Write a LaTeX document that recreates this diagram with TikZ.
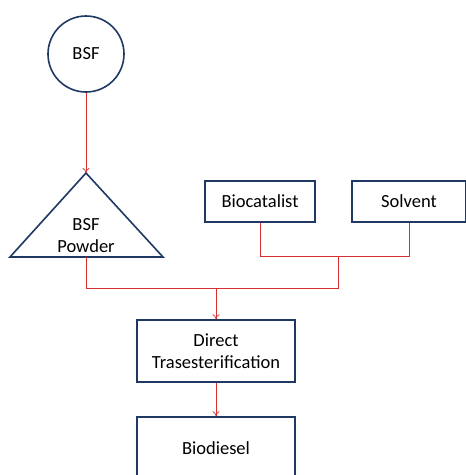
\documentclass[tikz,border=0pt]{standalone}
\usepackage{fontspec}
\setmainfont{Carlito}
\usetikzlibrary{arrows.meta}
\definecolor{boxblue}{RGB}{32,56,100}
\definecolor{flowred}{RGB}{214,48,48}
\begin{document}
\begin{tikzpicture}[x=1pt,y=-1pt,
    every node/.style={font=\fontsize{18.5}{22}\selectfont, align=center},
    stepbox/.style={draw=boxblue, line width=1.6pt, inner sep=0pt},
    flow/.style={draw=flowred, line width=0.7pt},
    flowarrow/.style={flow, -{To[length=5pt,width=7pt]}}]
    \clip (0,0) rectangle (466,475);
    \fill[white] (0,0) rectangle (466,475);

    % sources
    \node[stepbox, circle, minimum size=76pt] (bsf) at (86,54) {BSF};
    \draw[boxblue, line width=1.6pt, line join=miter] (10,257) -- (86,173) -- (163,257) -- cycle;
    \coordinate (apex) at (86,173);
    \coordinate (powbase) at (86,257);
    \node (powder) at (86,236) {BSF\\Powder};
    \node[stepbox, minimum width=110pt, minimum height=41pt] (bio) at (260,201.5) {Biocatalist};
    \node[stepbox, minimum width=114pt, minimum height=41pt] (solv) at (409,201.5) {Solvent};

    % process
    \node[stepbox, minimum width=158pt, minimum height=62pt] (direct) at (216,351) {Direct\\Trasesterification};
    \node[stepbox, minimum width=158pt, minimum height=62pt] (diesel) at (216,448) {Biodiesel};

    % joints
    \coordinate (mix) at (338,256);
    \coordinate (feed) at (216,288);

    \draw[flowarrow] (bsf) -- (apex);
    \draw[flow] (bio.south) -- (bio.south |- mix) -- (solv.south |- mix) -- (solv.south);
    \draw[flow] (mix) -- (mix |- feed) -- (powbase |- feed) -- (powbase);
    \draw[flowarrow] (feed) -- (direct);
    \draw[flowarrow] (direct) -- (diesel);
\end{tikzpicture}
\end{document}
